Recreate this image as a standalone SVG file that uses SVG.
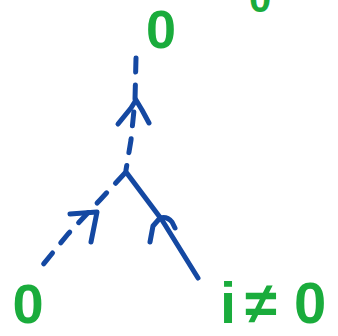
<svg xmlns="http://www.w3.org/2000/svg" width="338" height="336" viewBox="0 0 338 336">
<style>
.lbl{fill:#1aac3c;font-family:"Liberation Sans","DejaVu Sans",sans-serif;font-weight:bold;}
.edge{fill:none;stroke:#1448a2;stroke-width:5;stroke-linecap:round;stroke-linejoin:round;}
.dash{stroke-dasharray:14 13;}
</style>
<rect width="338" height="336" fill="#ffffff"/>
<g id="connectors">
<path class="edge dash" d="M136,58 L135,100 L131,140 L126,170"/>
<path class="edge" d="M118,124 L131,108 L136,100 M136,100 L142,110 L149,123"/>
<path class="edge dash" d="M125,173 L100,200 L68,234 L37,272"/>
<path class="edge" d="M70,214 L97,212 L91,242"/>
<path class="edge" d="M126,172 L162,220 L198,278"/>
<path class="edge" d="M150,242 L153,226 L160,218 Q167,216 172,222 L175,228"/>
</g>
<g id="node-top"><text class="lbl" x="161" y="48" font-size="54" text-anchor="middle">0</text></g>
<g id="node-topright"><text class="lbl" x="260" y="12" font-size="40" text-anchor="middle">0</text></g>
<g id="node-left"><text class="lbl" x="28" y="323" font-size="56" text-anchor="middle">0</text></g>
<g id="node-right"><text class="lbl" y="323" font-size="58"><tspan x="220">i</tspan><tspan x="245">≠</tspan><tspan x="294">0</tspan></text></g>
</svg>
